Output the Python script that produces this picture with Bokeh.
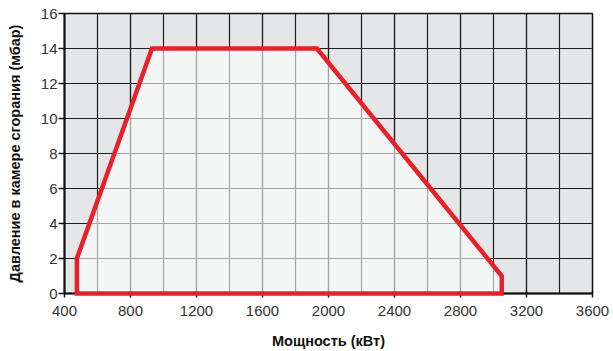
from bokeh.plotting import figure
from bokeh.models import SingleIntervalTicker, Range1d
from bokeh.embed import file_html
from bokeh.resources import INLINE

# Data: working field outline (power kW, pressure mbar)
power_kw = [475, 475, 930, 1930, 3050, 3050]
pressure_mbar = [0, 2, 14, 14, 1, 0]

x_ticks = [400, 800, 1200, 1600, 2000, 2400, 2800, 3200, 3600]
y_ticks = [0, 2, 4, 6, 8, 10, 12, 14, 16]

x_label = "Мощность (кВт)"
y_label = "Давление в камере сгорания (мбар)"

p = figure(width=613, height=351, output_backend="svg", toolbar_location=None,
           x_range=Range1d(400, 3600), y_range=Range1d(0, 16),
           min_border_left=64, min_border_right=21, min_border_top=13, min_border_bottom=58)

p.background_fill_color = "#e4e6e7"
p.border_fill_color = "white"
p.outline_line_color = "#111111"
p.outline_line_width = 1.5

p.xaxis.ticker = SingleIntervalTicker(interval=400, num_minor_ticks=2)
p.yaxis.ticker = SingleIntervalTicker(interval=2, num_minor_ticks=0)

for g in (p.xgrid, p.ygrid):
    g.grid_line_color = "#1e1e1e"
    g.grid_line_width = 1.2
p.xgrid.minor_grid_line_color = "#1e1e1e"
p.xgrid.minor_grid_line_width = 1.2

for ax in (p.xaxis, p.yaxis):
    ax.axis_line_color = "#111111"
    ax.axis_line_width = 2
    ax.major_tick_line_color = "#111111"
    ax.major_tick_line_width = 1.5
    ax.minor_tick_line_color = None
    ax.major_label_text_font = "Liberation Sans"
    ax.major_label_text_font_size = "15px"
    ax.major_label_text_color = "#333333"
    ax.axis_label_text_font = "Liberation Sans"
    ax.axis_label_text_font_style = "bold"
    ax.axis_label_text_font_size = "14.5px"
    ax.axis_label_text_color = "#111111"

p.xaxis.major_tick_out = 4
p.xaxis.major_tick_in = 2
p.yaxis.major_tick_out = 6
p.yaxis.major_tick_in = 0
p.xaxis.major_label_standoff = 8
p.yaxis.major_label_standoff = 1
p.xaxis.axis_label = x_label
p.yaxis.axis_label = y_label
p.xaxis.axis_label_standoff = 14
p.yaxis.axis_label_standoff = 15

p.patch(power_kw, pressure_mbar, fill_color="white", fill_alpha=0.6,
        line_color="#e8202a", line_width=4.5, line_join="miter", level="overlay")

open("out.html", "w").write(file_html(p, INLINE))
